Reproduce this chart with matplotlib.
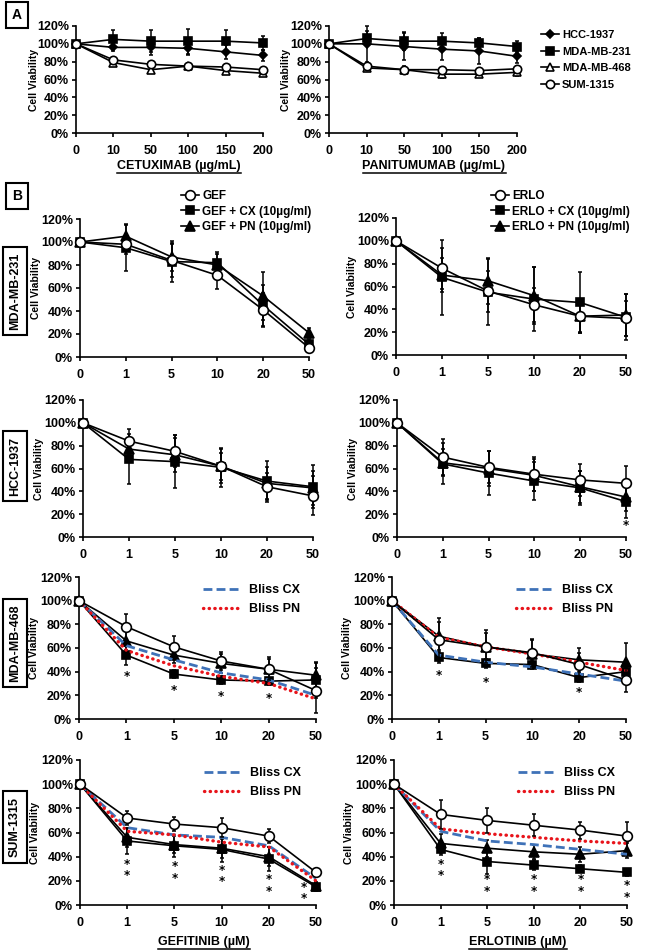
import numpy as np
import matplotlib
matplotlib.use('Agg')
import matplotlib.pyplot as plt
from matplotlib.lines import Line2D

plt.rcParams['font.family'] = ['Liberation Sans', 'DejaVu Sans']
plt.rcParams['font.weight'] = 'bold'

W, H = 650, 951

# ---- data -------------------------------------------------------------
mab_ticks = ['0', '10', '50', '100', '150', '200']
tki_ticks = ['0', '1', '5', '10', '20', '50']
cell_lines = ['HCC-1937', 'MDA-MB-231', 'MDA-MB-468', 'SUM-1315']

# panel A, cetuximab
cx_hcc = [100, 96, 96, 95, 91, 87]
cx_hcc_err = [0, 4, 8, 8, 8, 6]
cx_231 = [100, 105, 103, 103, 103, 101]
cx_231_err = [0, 11, 12, 14, 13, 8]
cx_468 = [100, 79, 71, 75, 70, 67]
cx_468_err = [0, 3, 4, 4, 3, 3]
cx_sum = [100, 82, 77, 75, 74, 71]
cx_sum_err = [0, 3, 3, 3, 3, 3]

# panel A, panitumumab
pn_hcc = [100, 100, 97, 94, 92, 86]
pn_hcc_err = [0, 20, 15, 12, 15, 8]
pn_231 = [100, 106, 103, 103, 101, 97]
pn_231_err = [0, 8, 10, 9, 5, 6]
pn_468 = [100, 73, 71, 66, 66, 68]
pn_468_err = [0, 3, 4, 4, 3, 4]
pn_sum = [100, 75, 71, 71, 70, 72]
pn_sum_err = [0, 3, 3, 3, 3, 3]

# panel B, MDA-MB-231
g231_gef = [100, 98, 84, 71, 41, 8]
g231_gef_err = [0, 8, 14, 12, 15, 4]
g231_cx = [100, 95, 83, 82, 45, 11]
g231_cx_err = [0, 20, 18, 9, 18, 5]
g231_pn = [100, 105, 87, 80, 53, 21]
g231_pn_err = [0, 11, 12, 10, 21, 4]

e231_erlo = [100, 76, 56, 44, 34, 32]
e231_erlo_err = [0, 18, 18, 15, 14, 15]
e231_cx = [100, 68, 55, 49, 46, 33]
e231_cx_err = [0, 33, 29, 28, 27, 20]
e231_pn = [100, 70, 65, 52, 34, 35]
e231_pn_err = [0, 15, 20, 25, 15, 18]

# panel B, HCC-1937
g1937_gef = [100, 84, 75, 62, 44, 36]
g1937_gef_err = [0, 11, 14, 12, 12, 17]
g1937_cx = [100, 68, 66, 61, 49, 44]
g1937_cx_err = [0, 22, 23, 17, 18, 19]
g1937_pn = [100, 77, 72, 62, 47, 43]
g1937_pn_err = [0, 10, 15, 15, 14, 15]

e1937_erlo = [100, 70, 61, 55, 50, 47]
e1937_erlo_err = [0, 16, 14, 15, 14, 15]
e1937_cx = [100, 64, 56, 49, 43, 31]
e1937_cx_err = [0, 18, 19, 17, 15, 14]
e1937_pn = [100, 65, 60, 54, 44, 35]
e1937_pn_err = [0, 12, 15, 14, 14, 12]

# panel B, MDA-MB-468
g468_gef = [100, 78, 61, 49, 42, 24]
g468_gef_err = [0, 11, 9, 8, 9, 19]
g468_cx = [100, 54, 38, 33, 32, 33]
g468_cx_err = [0, 8, 3, 3, 3, 15]
g468_pn = [100, 66, 54, 47, 42, 37]
g468_pn_err = [0, 8, 7, 8, 10, 10]
g468_bliss_cx = [100, 62, 50, 39, 33, 20]
g468_bliss_pn = [100, 58, 45, 36, 30, 17]

e468_erlo = [100, 67, 61, 56, 46, 33]
e468_erlo_err = [0, 18, 14, 12, 10, 10]
e468_cx = [100, 52, 47, 46, 35, 40]
e468_cx_err = [0, 5, 4, 4, 4, 10]
e468_pn = [100, 70, 61, 55, 50, 48]
e468_pn_err = [0, 12, 12, 12, 10, 16]
e468_bliss_cx = [100, 54, 48, 44, 38, 32]
e468_bliss_pn = [100, 69, 61, 55, 48, 41]

# panel B, SUM-1315
gsum_gef = [100, 72, 67, 64, 57, 27]
gsum_gef_err = [0, 6, 6, 8, 6, 3]
gsum_cx = [100, 53, 49, 46, 38, 15]
gsum_cx_err = [0, 11, 9, 10, 10, 3]
gsum_pn = [100, 56, 50, 47, 40, 16]
gsum_pn_err = [0, 8, 7, 8, 8, 3]
gsum_bliss_cx = [100, 64, 58, 56, 49, 22]
gsum_bliss_pn = [100, 61, 58, 52, 48, 20]

esum_erlo = [100, 75, 70, 66, 62, 57]
esum_erlo_err = [0, 12, 10, 9, 7, 12]
esum_cx = [100, 46, 36, 33, 30, 27]
esum_cx_err = [0, 5, 10, 4, 3, 3]
esum_pn = [100, 51, 47, 44, 42, 45]
esum_pn_err = [0, 8, 7, 6, 6, 6]
esum_bliss_cx = [100, 61, 53, 50, 46, 42]
esum_bliss_pn = [100, 63, 59, 56, 53, 51]

# significance marks (category index, y in %, number of stars)
stars_1937_erlo = [(5, 10, 1)]
stars_468_gef = [(1, 36, 1), (2, 24, 1), (3, 19, 1), (4, 17, 1)]
stars_468_erlo = [(1, 37, 1), (2, 31, 1), (4, 22, 1)]
stars_sum_gef = [(1, 29, 2), (2, 27, 2), (3, 24, 2), (4, 16, 2), (4.75, 10, 2)]
stars_sum_erlo = [(1, 29, 2), (2, 16, 2), (3, 16, 2), (4, 16, 2), (5, 11, 2)]

BLUE = '#3f72b8'
RED = '#e8141b'
TICKFONT = ['Liberation Sans Narrow', 'Liberation Sans', 'DejaVu Sans']

fig = plt.figure(figsize=(W / 100, H / 100), dpi=100)


def px_axes(x0, x1, y0, y120):
    return fig.add_axes([x0 / W, 1 - y0 / H, (x1 - x0) / W, (y0 - y120) / H])


def style(ax, ticks, ylab_x=-0.17):
    ax.set_xlim(0, 5)
    ax.set_ylim(0, 120)
    for s in ['top', 'right']:
        ax.spines[s].set_visible(False)
    for s in ['left', 'bottom']:
        ax.spines[s].set_linewidth(1.2)
    ax.set_xticks(range(6))
    ax.set_xticklabels(ticks, family=TICKFONT, fontsize=9, fontweight='bold')
    ax.set_yticks(range(0, 121, 20))
    ax.set_yticklabels(['%d%%' % v for v in range(0, 121, 20)],
                       family=TICKFONT, fontsize=9, fontweight='bold')
    ax.tick_params(direction='out', length=3, width=1.2, pad=2)
    ax.tick_params(axis='x', pad=6)
    ax.set_ylabel('Cell Viability', fontsize=7.5, fontweight='bold')
    ax.yaxis.set_label_coords(ylab_x, 0.5)


def series(ax, y, err, marker, mfc, ms=6, z=3):
    x = np.arange(len(y))
    eb = ax.errorbar(x, y, yerr=err, fmt='none', ecolor='k', elinewidth=1.1,
                     capsize=1.5, capthick=1.1, zorder=z)
    for a in eb.lines[1] + eb.lines[2]:
        a.set_clip_on(False)
    ln, = ax.plot(x, y, color='k', lw=1.2, marker=marker, ms=ms, mfc=mfc,
                  mec='k', mew=1.2, zorder=z + 0.5, clip_on=False)
    return ln


def bliss(ax, ycx, ypn):
    x = np.arange(6)
    a, = ax.plot(x, ycx, color=BLUE, lw=2.0, ls=(0, (3.2, 1.5)), zorder=4,
                 clip_on=False)
    b, = ax.plot(x, ypn, color=RED, lw=2.4, ls=(0, (0.1, 1.6)),
                 dash_capstyle='round', zorder=4, clip_on=False)
    return a, b


def stars(ax, pts):
    for xi, yi, n in pts:
        ax.text(xi, yi, '\n'.join(['*'] * n), ha='center', va='center',
                fontsize=8.5, fontweight='bold', family='DejaVu Sans',
                linespacing=0.85)


def boxed(x, y, s, rot=0, size=10):
    fig.text(x / W, 1 - y / H, s, ha='center', va='center', rotation=rot,
             fontsize=size, fontweight='bold',
             bbox=dict(boxstyle='square,pad=0.45', fc='white', ec='k', lw=1.5))


# ---- panel A ----------------------------------------------------------
axA1 = px_axes(76, 263, 133, 26)
axA2 = px_axes(329, 517, 133, 26)
for ax, data in [(axA1, [(cx_hcc, cx_hcc_err), (cx_231, cx_231_err),
                         (cx_468, cx_468_err), (cx_sum, cx_sum_err)]),
                 (axA2, [(pn_hcc, pn_hcc_err), (pn_231, pn_231_err),
                         (pn_468, pn_468_err), (pn_sum, pn_sum_err)])]:
    style(ax, mab_ticks, ylab_x=-0.2)
    h1 = series(ax, data[0][0], data[0][1], 'D', 'k', ms=4)
    h2 = series(ax, data[1][0], data[1][1], 's', 'k', ms=5.5)
    h3 = series(ax, data[2][0], data[2][1], '^', 'white', ms=5.5)
    h4 = series(ax, data[3][0], data[3][1], 'o', 'white', ms=6)
axA2.legend([h1, h2, h3, h4], cell_lines, loc='upper left',
            bbox_to_anchor=(541 / W, 1 - 30 / H), bbox_transform=fig.transFigure,
            frameon=False, fontsize=8, handlelength=1.6, handletextpad=0.3,
            labelspacing=0.6, borderpad=0, borderaxespad=0)

# ---- panel B ----------------------------------------------------------
rows = [
    ((80, 309, 357, 219), (396, 626, 355, 218),
     (g231_gef, g231_gef_err, g231_cx, g231_cx_err, g231_pn, g231_pn_err),
     (e231_erlo, e231_erlo_err, e231_cx, e231_cx_err, e231_pn, e231_pn_err),
     None, None, [], []),
    ((83, 313, 537, 400), (397, 626, 537, 400),
     (g1937_gef, g1937_gef_err, g1937_cx, g1937_cx_err, g1937_pn, g1937_pn_err),
     (e1937_erlo, e1937_erlo_err, e1937_cx, e1937_cx_err, e1937_pn, e1937_pn_err),
     None, None, [], stars_1937_erlo),
    ((79, 316, 719, 577), (392, 626, 719, 577),
     (g468_gef, g468_gef_err, g468_cx, g468_cx_err, g468_pn, g468_pn_err),
     (e468_erlo, e468_erlo_err, e468_cx, e468_cx_err, e468_pn, e468_pn_err),
     (g468_bliss_cx, g468_bliss_pn), (e468_bliss_cx, e468_bliss_pn),
     stars_468_gef, stars_468_erlo),
    ((80, 316, 905, 760), (394, 627, 905, 760),
     (gsum_gef, gsum_gef_err, gsum_cx, gsum_cx_err, gsum_pn, gsum_pn_err),
     (esum_erlo, esum_erlo_err, esum_cx, esum_cx_err, esum_pn, esum_pn_err),
     (gsum_bliss_cx, gsum_bliss_pn), (esum_bliss_cx, esum_bliss_pn),
     stars_sum_gef, stars_sum_erlo),
]

legend_handles = {}
for i, (pl, pr, dl, dr, bl, br, sl, sr) in enumerate(rows):
    for side, pos, d, b, st in [('L', pl, dl, bl, sl), ('R', pr, dr, br, sr)]:
        ax = px_axes(*pos)
        style(ax, tki_ticks)
        hc = series(ax, d[2], d[3], 's', 'k', ms=6, z=3)
        hp = series(ax, d[4], d[5], '^', 'k', ms=6.5, z=3)
        if b is not None:
            bb = bliss(ax, b[0], b[1])
            top = pos[3] + 15
            ax.legend(bb, ['Bliss CX', 'Bliss PN'], loc='upper left',
                      bbox_to_anchor=((pos[0] + 124) / W, 1 - (top - 8) / H),
                      bbox_transform=fig.transFigure, frameon=False,
                      fontsize=9, handlelength=3.0, handletextpad=0.7,
                      labelspacing=0.55, borderpad=0, borderaxespad=0)
        hg = series(ax, d[0], d[1], 'o', 'white', ms=7, z=5)
        stars(ax, st)
        legend_handles[(i, side)] = (hg, hc, hp, ax)

hg, hc, hp, ax = legend_handles[(0, 'L')]
ax.legend([hg, hc, hp], ['GEF', 'GEF + CX (10µg/ml)', 'GEF + PN (10µg/ml)'],
          loc='upper left', bbox_to_anchor=(181 / W, 1 - 190 / H),
          bbox_transform=fig.transFigure, frameon=False, fontsize=8.5,
          handlelength=1.5, handletextpad=0.3, labelspacing=0.3,
          borderpad=0, borderaxespad=0)
hg, hc, hp, ax = legend_handles[(0, 'R')]
ax.legend([hg, hc, hp], ['ERLO', 'ERLO + CX (10µg/ml)', 'ERLO + PN (10µg/ml)'],
          loc='upper left', bbox_to_anchor=(491 / W, 1 - 190 / H),
          bbox_transform=fig.transFigure, frameon=False, fontsize=8.5,
          handlelength=1.5, handletextpad=0.3, labelspacing=0.3,
          borderpad=0, borderaxespad=0)

# ---- labels -----------------------------------------------------------
boxed(17, 15, 'A', size=10)
boxed(17, 196, 'B', size=10)
for yc, name in zip([291, 466, 643, 827],
                    ['MDA-MB-231', 'HCC-1937', 'MDA-MB-468', 'SUM-1315']):
    boxed(15, yc, name, rot=90, size=9)

xlabels = []
for xc, yc, s in [(179, 166, 'CETUXIMAB (µg/mL)'),
                  (434, 166, 'PANITUMUMAB (µg/mL)'),
                  (204, 942, 'GEFITINIB (µM)'),
                  (518, 942, 'ERLOTINIB (µM)')]:
    xlabels.append(fig.text(xc / W, 1 - yc / H, s, ha='center', va='center',
                            fontsize=9, fontweight='bold'))

fig.canvas.draw()
r = fig.canvas.get_renderer()
for t in xlabels:
    bb = t.get_window_extent(r).transformed(fig.transFigure.inverted())
    fig.add_artist(Line2D([bb.x0, bb.x1], [bb.y0 - 1 / H, bb.y0 - 1 / H],
                          color='k', lw=1.1, transform=fig.transFigure))

fig.savefig('out.png', dpi=100)
